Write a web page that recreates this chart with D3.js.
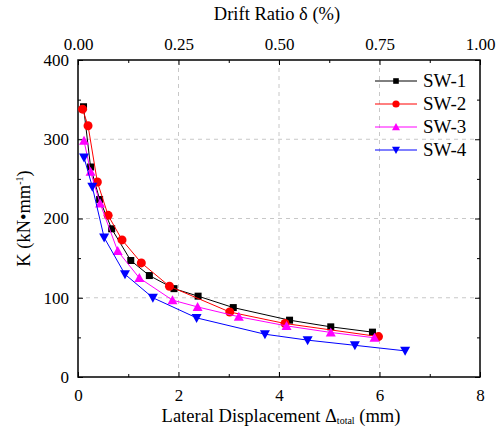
<!DOCTYPE html>
<html>
<head>
<meta charset="utf-8">
<script src="https://cdn.jsdelivr.net/npm/d3@7"></script>
<style>
  body { margin: 0; background: #fff; font-family: "Liberation Serif", serif; }
  svg text { font-family: "Liberation Serif", serif; }
</style>
</head>
<body>
<div id="chart"></div>
<script>
// data: displacement (mm) and stiffness (kN/mm)
var sw1X = [0.11, 0.25, 0.43, 0.67, 1.05, 1.42, 1.91, 2.39, 3.09, 4.21, 5.03, 5.86];
var sw1Y = [341, 265, 224, 187, 147, 128, 111.5, 102, 87.6, 71.7, 63.3, 56.6];
var sw2X = [0.09, 0.2, 0.385, 0.6, 0.876, 1.26, 1.82, 3.02, 4.12, 5.98];
var sw2Y = [338, 317, 246, 204, 173, 144, 114.5, 82, 67.5, 51];
var sw3X = [0.12, 0.25, 0.44, 0.79, 1.22, 1.88, 2.38, 3.2, 4.15, 5.03, 5.9];
var sw3Y = [298, 259, 219, 159, 125, 97, 88.4, 76, 64.5, 56.2, 49.5];
var sw4X = [0.12, 0.285, 0.52, 0.935, 1.49, 2.36, 3.72, 4.57, 5.51, 6.51];
var sw4Y = [277, 240, 176, 129.6, 100, 74.6, 54, 46.5, 40, 33];

var seriesNames = ["SW-1", "SW-2", "SW-3", "SW-4"];
var seriesColors = ["#000000", "#ff0000", "#ff00ff", "#0000ff"];
var xTicks = [0, 2, 4, 6, 8];
var yTicks = [0, 100, 200, 300, 400];
var topTicks = [0, 0.25, 0.5, 0.75, 1.0];

var series = [
  { name: seriesNames[0], color: seriesColors[0], sym: "square", xs: sw1X, ys: sw1Y },
  { name: seriesNames[1], color: seriesColors[1], sym: "circle", xs: sw2X, ys: sw2Y },
  { name: seriesNames[2], color: seriesColors[2], sym: "up", xs: sw3X, ys: sw3Y },
  { name: seriesNames[3], color: seriesColors[3], sym: "down", xs: sw4X, ys: sw4Y }
];

var margin = { top: 60, right: 16, bottom: 57, left: 78 };
var width = 496 - margin.left - margin.right;
var height = 434 - margin.top - margin.bottom;

var svg = d3.select("#chart")
  .append("svg")
    .attr("width", 496)
    .attr("height", 434)
  .append("g")
    .attr("transform", "translate(" + margin.left + "," + margin.top + ")");

var x = d3.scaleLinear().domain([0, 8]).range([0, width]);
var x2 = d3.scaleLinear().domain([0, 1]).range([0, width]);
var y = d3.scaleLinear().domain([0, 400]).range([height, 0]);

// grid
svg.append("g").selectAll("line").data([2, 4, 6]).enter().append("line")
  .attr("x1", function(d) { return x(d); }).attr("x2", function(d) { return x(d); })
  .attr("y1", 0).attr("y2", height)
  .attr("stroke", "#c8c8c8").attr("stroke-dasharray", "4,4");
svg.append("g").selectAll("line").data([100, 200, 300]).enter().append("line")
  .attr("y1", function(d) { return y(d); }).attr("y2", function(d) { return y(d); })
  .attr("x1", 0).attr("x2", width)
  .attr("stroke", "#c8c8c8").attr("stroke-dasharray", "4,4");

// axes, ticks inward
function styleAxis(g) {
  g.attr("font-family", null).attr("font-size", 17);
  g.select(".domain").remove();
  g.selectAll("line").attr("stroke", "#000");
  g.selectAll("text").attr("fill", "#000");
}
function minor(g) {
  g.select(".domain").remove();
  g.selectAll("text").remove();
  g.selectAll("line").attr("stroke", "#000");
}

svg.append("g").attr("transform", "translate(0," + height + ")")
  .call(d3.axisBottom(x).tickValues(xTicks).tickSize(-5).tickPadding(12).tickFormat(d3.format("d")))
  .call(styleAxis);
svg.append("g").attr("transform", "translate(0," + height + ")")
  .call(d3.axisBottom(x).tickValues([1, 3, 5, 7]).tickSize(-3)).call(minor);

svg.append("g")
  .call(d3.axisLeft(y).tickValues(yTicks).tickSize(-5).tickPadding(9).tickFormat(d3.format("d")))
  .call(styleAxis);
svg.append("g")
  .call(d3.axisLeft(y).tickValues([50, 150, 250, 350]).tickSize(-3)).call(minor);

svg.append("g").attr("transform", "translate(" + width + ",0)")
  .call(d3.axisRight(y).tickValues(yTicks).tickSize(-5)).call(minor);
svg.append("g").attr("transform", "translate(" + width + ",0)")
  .call(d3.axisRight(y).tickValues([50, 150, 250, 350]).tickSize(-3)).call(minor);

svg.append("g")
  .call(d3.axisTop(x2).tickValues(topTicks).tickSize(-5).tickPadding(10).tickFormat(d3.format(".2f")))
  .call(styleAxis);
svg.append("g")
  .call(d3.axisTop(x2).tickValues([0.125, 0.375, 0.625, 0.875]).tickSize(-3)).call(minor);

// frame
svg.append("rect").attr("width", width).attr("height", height)
  .attr("fill", "none").attr("stroke", "#000").attr("stroke-width", 1.5);

// symbols
function drawSym(g, sym, color, k) {
  if (sym === "square") {
    g.append("rect").attr("x", -3.5 * k).attr("y", -3.5 * k).attr("width", 7 * k).attr("height", 7 * k).attr("fill", color);
  } else if (sym === "circle") {
    g.append("circle").attr("r", 4.5 * k).attr("fill", color);
  } else if (sym === "up") {
    g.append("path").attr("d", "M0," + (-5 * k) + "L" + (5 * k) + "," + (4 * k) + "L" + (-5 * k) + "," + (4 * k) + "Z").attr("fill", color);
  } else {
    g.append("path").attr("d", "M0," + (5 * k) + "L" + (5 * k) + "," + (-4 * k) + "L" + (-5 * k) + "," + (-4 * k) + "Z").attr("fill", color);
  }
}

var line = d3.line().x(function(d) { return x(d[0]); }).y(function(d) { return y(d[1]); });

series.forEach(function(s) {
  var pts = s.xs.map(function(v, i) { return [v, s.ys[i]]; });
  svg.append("path").datum(pts).attr("d", line)
    .attr("fill", "none").attr("stroke", s.color).attr("stroke-width", 1);
  svg.append("g").selectAll("g").data(pts).enter().append("g")
    .attr("transform", function(d) { return "translate(" + x(d[0]) + "," + y(d[1]) + ")"; })
    .each(function() { drawSym(d3.select(this), s.sym, s.color, 1); });
});

// legend
var legend = svg.append("g").attr("transform", "translate(" + (375 - margin.left) + "," + (81 - margin.top) + ")");
series.forEach(function(s, i) {
  var row = legend.append("g").attr("transform", "translate(0," + (i * 23) + ")");
  row.append("line").attr("x1", 0).attr("x2", 42).attr("stroke", s.color).attr("stroke-width", 1);
  drawSym(row.append("g").attr("transform", "translate(21,0)"), s.sym, s.color, 0.8);
  row.append("text").attr("x", 48).attr("y", 6).attr("font-size", 19).text(s.name);
});

// titles
var xt = svg.append("text").attr("x", width / 2 + 2).attr("y", height + 45)
  .attr("text-anchor", "middle").attr("font-size", 18.5);
xt.append("tspan").text("Lateral Displacement Δ");
xt.append("tspan").attr("font-size", 10).attr("dy", 2).text("total");
xt.append("tspan").attr("dy", -2).text(" (mm)");

svg.append("text").attr("x", width / 2 - 2).attr("y", -40)
  .attr("text-anchor", "middle").attr("font-size", 18.5).text("Drift Ratio δ (%)");

var yt = svg.append("text").attr("transform", "translate(" + (-48) + "," + (height / 2) + ") rotate(-90)")
  .attr("text-anchor", "middle").attr("font-size", 18.5);
yt.append("tspan").text("K (kN•mm");
yt.append("tspan").attr("font-size", 10).attr("dy", -7).text("-1");
yt.append("tspan").attr("dy", 7).text(")");
</script>
</body>
</html>
